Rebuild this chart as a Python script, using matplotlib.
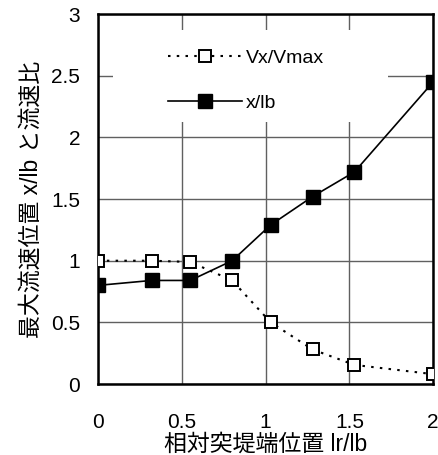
import matplotlib
matplotlib.use('Agg')
import matplotlib.pyplot as plt
from matplotlib.patches import Rectangle

plt.rcParams['font.family'] = ['Liberation Sans', 'Noto Sans CJK JP', 'DejaVu Sans']

# relative groyne-tip position lr/lb
x_pos = [0.0, 0.32, 0.55, 0.80, 1.03, 1.28, 1.53, 2.0]
# velocity ratio Vx/Vmax
v_ratio = [1.0, 1.0, 0.99, 0.84, 0.50, 0.28, 0.155, 0.08]
# max velocity position x/lb
x_lb = [0.80, 0.84, 0.84, 1.0, 1.29, 1.52, 1.72, 2.45]

xticks = [0, 0.5, 1, 1.5, 2]
xticklabels = ['0', '0.5', '1', '1.5', '2']
yticks = [0, 0.5, 1, 1.5, 2, 2.5, 3]
yticklabels = ['0', '0.5', '1', '1.5', '2', '2.5', '3']

fig = plt.figure(figsize=(4.38, 4.55), dpi=100)
ax = fig.add_axes([0.224, 0.156, 0.765, 0.813])

ax.plot(x_pos, v_ratio, linestyle=(0, (1.2, 3)), color='black', linewidth=1.5,
        marker='s', markersize=8, markerfacecolor='white',
        markeredgecolor='black', markeredgewidth=1.4, label='Vx/Vmax', zorder=3)
ax.plot(x_pos, x_lb, linestyle='-', color='black', linewidth=1.2,
        marker='s', markersize=10, markerfacecolor='black',
        markeredgecolor='black', label='x/lb', zorder=3)

ax.set_xlim(0, 2)
ax.set_ylim(0, 3)
ax.set_xticks(xticks)
ax.set_xticklabels(xticklabels)
ax.set_yticks(yticks)
ax.set_yticklabels(yticklabels)
ax.tick_params(axis='both', direction='in', length=0, labelsize=15)
ax.tick_params(axis='x', pad=21)
ax.tick_params(axis='y', pad=13)
ax.grid(True, color='#606060', linewidth=1.0)
ax.set_axisbelow(True)
for s in ax.spines.values():
    s.set_linewidth(1.8)
    s.set_color('black')

ax.set_xlabel('相対突堤端位置 lr/lb', fontsize=16.5, labelpad=0)
ax.set_ylabel('最大流速位置 x/lb と流速比', fontsize=16.5, labelpad=6)

# white box behind the legend (hides the grid there)
ax.add_patch(Rectangle((0.045, 0.708), 0.821, 0.249, transform=ax.transAxes,
                       facecolor='white', edgecolor='none', zorder=1.5))
leg = ax.legend(loc='upper left', bbox_to_anchor=(0.209, 0.904), frameon=False,
                fontsize=14, handlelength=3.8, labelspacing=1.4, borderpad=0,
                handletextpad=0.2, borderaxespad=0)

fig.savefig('out.png', dpi=100)
